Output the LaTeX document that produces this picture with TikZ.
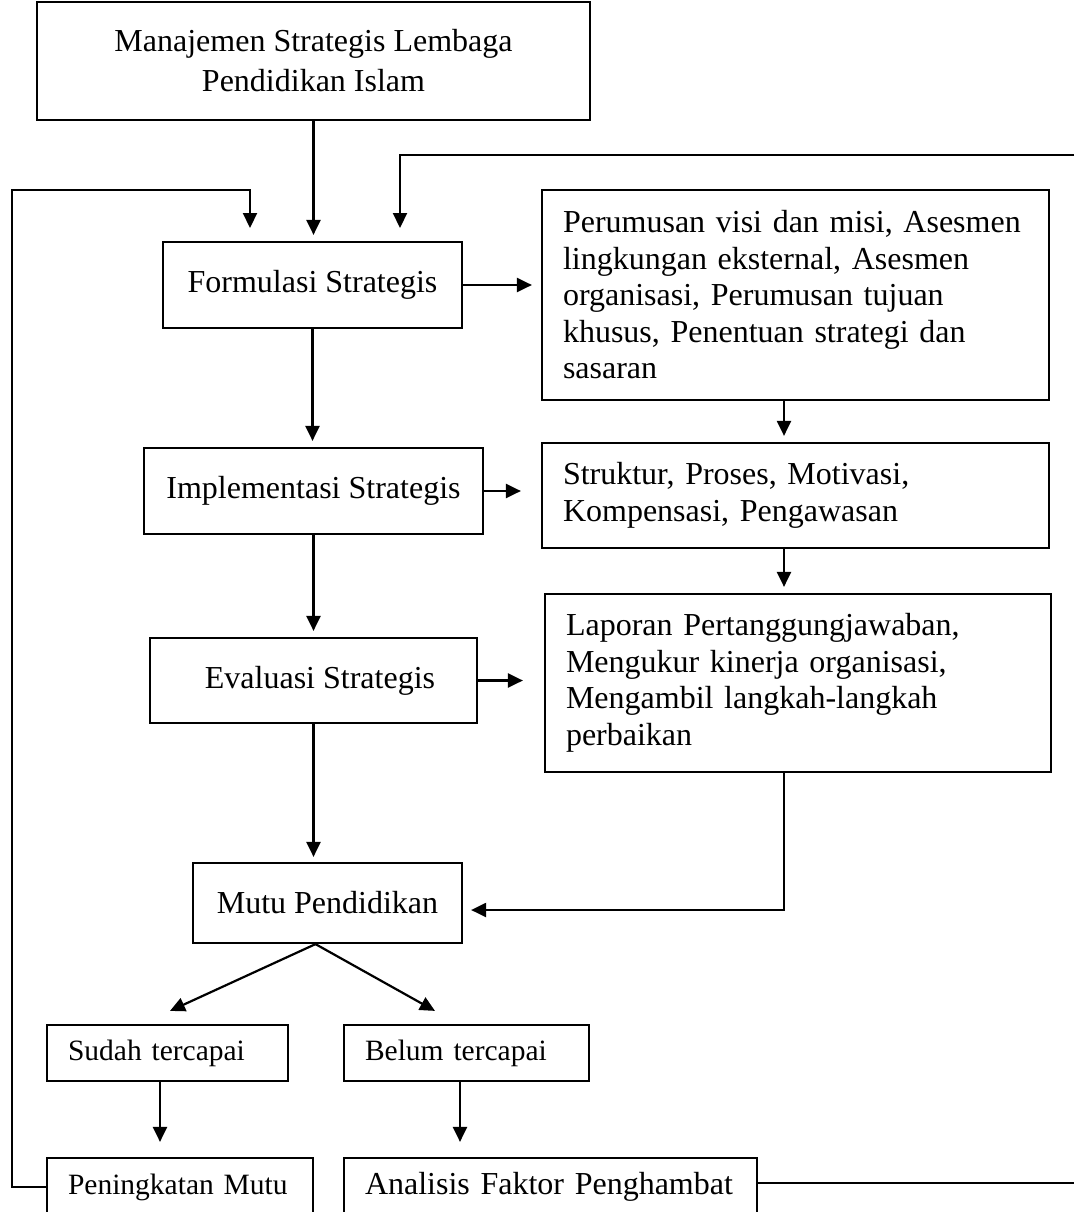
\documentclass[tikz,border=0pt]{standalone}
\usepackage{fontspec}
\setmainfont{Liberation Serif}
\usetikzlibrary{arrows.meta,calc}
\begin{document}
\begin{tikzpicture}[x=1pt,y=-1pt, line width=2.2pt,
  box/.style={draw, inner sep=0pt, align=center, font=\fontsize{32}{40}\selectfont},
  lbox/.style={draw, inner ysep=0pt, inner xsep=21pt, align=left, font=\fontsize{32}{36.5}\selectfont},
  sbox/.style={draw, inner ysep=0pt, inner xsep=21pt, align=left, font=\fontsize{29.5}{34}\selectfont},
  arr/.style={-{Triangle[length=15pt,width=14pt]}}
]
\useasboundingbox (0,0) rectangle (1074,1212);
\clip (0,0) rectangle (1074,1212);

\node[box, minimum width=553, minimum height=118] (top) at (313.5,61) {Manajemen Strategis Lembaga\\Pendidikan Islam};
\node[box, minimum width=299, minimum height=86] (form) at (312.5,285) {Formulasi Strategis};
\node[box, minimum width=339, minimum height=86] (impl) at (313.5,491) {Implementasi Strategis};
\node[box, minimum width=327, minimum height=85] (eval) at (313.5,680.5) {\hspace{13pt}Evaluasi Strategis};
\node[box, minimum width=269, minimum height=80] (mutu) at (327.5,903) {Mutu Pendidikan};

\node[lbox, text width=465, minimum height=210] (r1) at (795.5,295) {Perumusan visi dan misi, Asesmen\\lingkungan eksternal, Asesmen\\organisasi, Perumusan tujuan\\khusus, Penentuan strategi dan\\sasaran};
\node[lbox, text width=465, minimum height=105] (r2) at (795.5,495.5) {Struktur, Proses, Motivasi,\\Kompensasi, Pengawasan};
\node[lbox, text width=464, minimum height=178] (r3) at (798,683) {Laporan Pertanggungjawaban,\\Mengukur kinerja organisasi,\\Mengambil langkah-langkah\\perbaikan};

\node[sbox, text width=199, minimum height=56] (sudah) at (167.5,1053) {Sudah tercapai};
\node[sbox, text width=203, minimum height=56] (belum) at (466.5,1053) {Belum tercapai};
\node[sbox, text width=224, minimum height=58] (pen) at (180,1187) {Peningkatan Mutu};
\node[sbox, text width=371, minimum height=58, font=\fontsize{32}{36}\selectfont] (anal) at (550.5,1187) {Analisis Faktor Penghambat};

\coordinate (L) at (12,190);
\coordinate (LT) at (250,228);
\coordinate (R) at (1074,155);
\coordinate (RT) at (400,228);
\coordinate (a1) at ($(r1.south)+(-11.5,0)$);
\coordinate (a2) at ($(r2.south)+(-11.5,0)$);
\coordinate (a3) at ($(r3.south)+(-14,0)$);
\coordinate (m1) at ($(mutu.east)+(0,7)$);
\coordinate (ms) at ($(mutu.south)+(-12,0)$);
\coordinate (sT) at ($(sudah.north)+(2.5,-13)$);
\coordinate (bT) at ($(belum.north)+(-31.5,-13)$);
\coordinate (sB) at ($(sudah.south)+(-7.5,0)$);
\coordinate (bB) at ($(belum.south)+(-6.5,0)$);
\coordinate (aE) at ($(anal.east)+(0,-4)$);

\draw[arr, shorten >=6pt] (top.south) -- (top.south |- form.north);
\draw[arr, shorten >=6pt] (form.south) -- (form.south |- impl.north);
\draw[arr, shorten >=6pt] (impl.south) -- (impl.south |- eval.north);
\draw[arr, shorten >=5pt] (eval.south) -- (eval.south |- mutu.north);

\draw[arr, shorten >=9pt] (form.east) -- (form.east -| r1.west);
\draw[arr, shorten >=20pt] (impl.east) -- (impl.east -| r2.west);
\draw[arr, shorten >=21pt] (eval.east) -- (eval.east -| r3.west);

\draw[arr, shorten >=6pt] (a1) -- (a1 |- r2.north);
\draw[arr, shorten >=6pt] (a2) -- (a2 |- r3.north);
\draw[arr, shorten >=8pt] (a3) |- (m1);

\draw[arr] (ms) -- (sT);
\draw[arr] (ms) -- (bT);

\draw[arr, shorten >=15pt] (sB) -- (sB |- pen.north);
\draw[arr, shorten >=15pt] (bB) -- (bB |- anal.north);

\draw[arr] (pen.west) -| (L) -| (LT);
\draw[arr] (R) -| (RT);
\draw (aE) -- (aE -| R);
\end{tikzpicture}
\end{document}
